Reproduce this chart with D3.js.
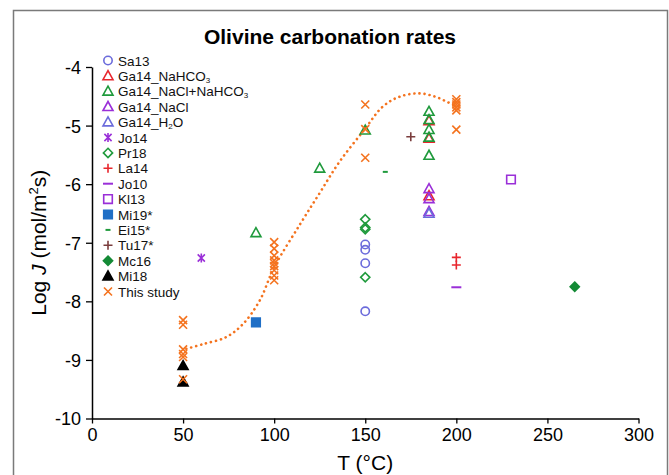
<!DOCTYPE html>
<html>
<head>
<meta charset="utf-8">
<script src="https://cdn.jsdelivr.net/npm/d3@7"></script>
<style>
  body { margin: 0; background: #fff; }
  svg { font-family: "Liberation Sans", Arial, sans-serif; }
</style>
</head>
<body>
<div id="chart"></div>
<script>
// data: [T (°C), log J]
const sa13 = [[150, -7.03], [150, -7.12], [150, -7.35], [150, -8.17]];
const ga14NaHCO3 = [[185, -4.92], [185, -5.22], [185, -6.2]];
const ga14NaClNaHCO3 = [[90, -6.83], [125, -5.73], [150, -5.08], [185, -4.76], [185, -4.9], [185, -5.07], [185, -5.2], [185, -5.51]];
const ga14NaCl = [[185, -6.08], [185, -6.25], [185, -6.47]];
const ga14H2O = [[185, -6.5]];
const jo14 = [[60, -7.26]];
const pr18 = [[150, -6.6], [150, -6.74], [150, -6.77], [150, -7.59]];
const la14 = [[200, -7.25], [200, -7.38]];
const jo10 = [[200, -7.76]];
const kl13 = [[230, -5.92]];
const mi19 = [[90, -8.36]];
const ei15 = [[161, -5.79]];
const tu17 = [[175, -5.19]];
const mc16 = [[265, -7.75]];
const mi18 = [[50, -9.1], [50, -9.38]];
const thisStudy = [
  [50, -8.32], [50, -8.4], [50, -8.82], [50, -8.9], [50, -8.95], [50, -9.33],
  [100, -6.99], [100, -7.1], [100, -7.22], [100, -7.3], [100, -7.35], [100, -7.4], [100, -7.47], [100, -7.56], [100, -7.64],
  [150, -4.64], [150, -5.06], [150, -5.55],
  [200, -4.55], [200, -4.6], [200, -4.64], [200, -4.69], [200, -4.74], [200, -5.07]
];
// dotted trend line as traced on the figure
const trend = [
  [51.8, -8.81], [61, -8.73], [73.7, -8.61], [82.8, -8.39], [92, -7.99], [100, -7.42],
  [113.9, -6.7], [125, -6.15], [135.8, -5.62], [149.5, -5.07], [159.5, -4.68],
  [168.6, -4.51], [179.6, -4.45], [188.7, -4.51], [196, -4.61], [200, -4.66]
];
const xTicks = [0, 50, 100, 150, 200, 250, 300];
const yTicks = [-4, -5, -6, -7, -8, -9, -10];

const orange = "#f4731f";

// label, data, marker, colour, filled
const series = [
  { label: ["Sa13"], data: sa13, shape: "circle", color: "#6b6bdb", fill: false },
  { label: ["Ga14_NaHCO", "3"], data: ga14NaHCO3, shape: "triangle", color: "#e8262d", fill: false },
  { label: ["Ga14_NaCl+NaHCO", "3"], data: ga14NaClNaHCO3, shape: "triangle", color: "#1f9a3c", fill: false },
  { label: ["Ga14_NaCl"], data: ga14NaCl, shape: "triangle", color: "#9a2fd8", fill: false },
  { label: ["Ga14_H", "2", "O"], data: ga14H2O, shape: "triangle", color: "#6b6bdb", fill: false },
  { label: ["Jo14"], data: jo14, shape: "asterisk", color: "#9a2fd8", fill: false },
  { label: ["Pr18"], data: pr18, shape: "diamond", color: "#1f9a3c", fill: false },
  { label: ["La14"], data: la14, shape: "plus", color: "#e8262d", fill: false },
  { label: ["Jo10"], data: jo10, shape: "dash", color: "#9a2fd8", fill: false },
  { label: ["Kl13"], data: kl13, shape: "square", color: "#9a2fd8", fill: false },
  { label: ["Mi19*"], data: mi19, shape: "square", color: "#1f6fc6", fill: true },
  { label: ["Ei15*"], data: ei15, shape: "shortdash", color: "#1f9a3c", fill: false },
  { label: ["Tu17*"], data: tu17, shape: "plus", color: "#7a3d3d", fill: false },
  { label: ["Mc16"], data: mc16, shape: "diamond", color: "#148a36", fill: true },
  { label: ["Mi18"], data: mi18, shape: "triangle", color: "#000000", fill: true },
  { label: ["This study"], data: thisStudy, shape: "times", color: orange, fill: false }
];

const width = 669;
const height = 475;
const margin = { top: 67, right: 30.5, bottom: 56.5, left: 92 };
const boundedWidth = width - margin.left - margin.right;
const boundedHeight = height - margin.top - margin.bottom;

function markerPath(shape) {
  switch (shape) {
    case "circle": return d3.symbol(d3.symbolCircle, 55)();
    case "triangle": return "M0,-5.2L5,3.8L-5,3.8Z";
    case "diamond": return "M0,-4.6L4.6,0L0,4.6L-4.6,0Z";
    case "square": return "M-4.3,-4.3H4.3V4.3H-4.3Z";
    case "plus": return "M-4.5,0H4.5M0,-4.5V4.5";
    case "times": return "M-4,-4L4,4M4,-4L-4,4";
    case "asterisk": return "M-3.6,-3.6L3.6,3.6M3.6,-3.6L-3.6,3.6M0,-4.6V4.6";
    case "dash": return "M-5,0H5";
    case "shortdash": return "M-2.5,0H2.5";
  }
}

const wrapper = d3.select("#chart")
  .append("svg")
  .attr("width", width)
  .attr("height", height);

// outer frame
wrapper.append("rect")
  .attr("x", 13.5)
  .attr("y", 10.5)
  .attr("width", 654)
  .attr("height", 480)
  .attr("fill", "none")
  .attr("stroke", "#7a7a7a")
  .attr("stroke-width", 1.5);

const bounds = wrapper.append("g")
  .attr("transform", `translate(${margin.left}, ${margin.top})`);

const xScale = d3.scaleLinear().domain([0, 300]).range([0, boundedWidth]);
const yScale = d3.scaleLinear().domain([-10, -4]).range([boundedHeight, 0]);

// axes
const xAxis = bounds.append("g")
  .attr("transform", `translate(0, ${boundedHeight})`)
  .call(d3.axisBottom(xScale).tickValues(xTicks).tickFormat((d) => String(d))
    .tickSizeInner(5).tickSizeOuter(0).tickPadding(5));
const yAxis = bounds.append("g")
  .call(d3.axisLeft(yScale).tickValues(yTicks).tickFormat((d) => String(d))
    .tickSizeInner(6).tickSizeOuter(0).tickPadding(5));

[xAxis, yAxis].forEach((ax) => {
  ax.select(".domain").attr("stroke", "#000").attr("stroke-width", 1.5);
  ax.selectAll(".tick line").attr("stroke", "#000").attr("stroke-width", 1.3);
  ax.selectAll(".tick text")
    .attr("fill", "#000")
    .style("font-size", "18px")
    .style("font-family", "'Liberation Sans', Arial, sans-serif");
});
yAxis.selectAll(".tick text").attr("dy", "0.36em");
xAxis.selectAll(".tick text").attr("dy", "0.72em");

// trend line
const lineGenerator = d3.line()
  .x((d) => xScale(d[0]))
  .y((d) => yScale(d[1]))
  .curve(d3.curveCatmullRom);

bounds.append("path")
  .datum(trend)
  .attr("d", lineGenerator)
  .attr("fill", "none")
  .attr("stroke", orange)
  .attr("stroke-width", 2.6)
  .attr("stroke-linecap", "round")
  .attr("stroke-dasharray", "0.1,5");

// points
series.forEach((s) => {
  bounds.append("g")
    .selectAll("path")
    .data(s.data)
    .enter()
    .append("path")
    .attr("transform", (d) => `translate(${xScale(d[0])}, ${yScale(d[1])})`)
    .attr("d", markerPath(s.shape))
    .attr("fill", s.fill ? s.color : "none")
    .attr("stroke", s.color)
    .attr("stroke-width", s.shape === "dash" || s.shape === "shortdash" ? 2 : 1.6);
});

// legend
const legend = wrapper.append("g").attr("transform", "translate(108, 60.5)");
series.forEach((s, i) => {
  const row = legend.append("g").attr("transform", `translate(0, ${i * 15.4})`);
  row.append("path")
    .attr("d", markerPath(s.shape))
    .attr("fill", s.fill ? s.color : "none")
    .attr("stroke", s.color)
    .attr("stroke-width", s.shape === "dash" || s.shape === "shortdash" ? 2 : 1.6);
  const text = row.append("text")
    .attr("x", 10)
    .attr("y", 5)
    .style("font-size", "13.5px")
    .attr("fill", "#111");
  text.append("tspan").text(s.label[0]);
  if (s.label.length > 1) {
    text.append("tspan").attr("dy", 2).style("font-size", "8px").text(s.label[1]);
  }
  if (s.label.length > 2) {
    text.append("tspan").attr("dy", -2).text(s.label[2]);
  }
});

// title
wrapper.append("text")
  .attr("x", 330)
  .attr("y", 43.5)
  .attr("text-anchor", "middle")
  .style("font-size", "21px")
  .style("font-weight", "bold")
  .text("Olivine carbonation rates");

// axis labels
wrapper.append("text")
  .attr("x", margin.left + xScale(150))
  .attr("y", 470)
  .attr("text-anchor", "middle")
  .style("font-size", "21px")
  .text("T (°C)");

const yLabel = wrapper.append("text")
  .attr("transform", `translate(46, ${margin.top + boundedHeight / 2}) rotate(-90)`)
  .attr("text-anchor", "middle")
  .style("font-size", "21px");
yLabel.append("tspan").text("Log ");
yLabel.append("tspan").style("font-style", "italic").text("J");
yLabel.append("tspan").text(" (mol/m");
yLabel.append("tspan").attr("dy", -8).style("font-size", "13px").text("2");
yLabel.append("tspan").attr("dy", 8).text("s)");
</script>
</body>
</html>
